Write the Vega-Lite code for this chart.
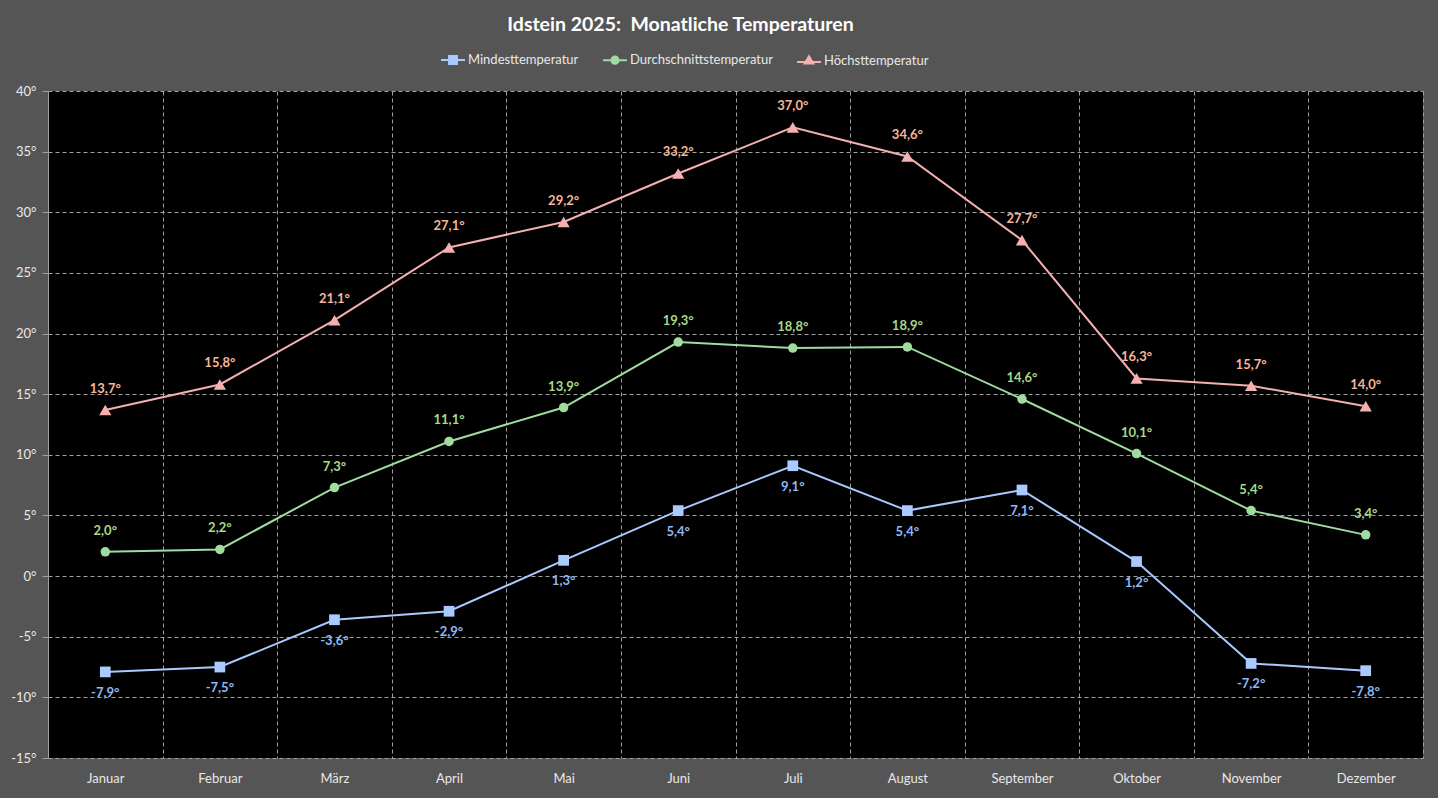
{
  "$schema": "https://vega.github.io/schema/vega-lite/v6.json",
  "autosize": "none",
  "width": 1375,
  "height": 667,
  "padding": {"left": 48, "top": 91, "right": 15, "bottom": 40},
  "background": "#555555",
  "config": {
    "locale": {"number": {"decimal": ",", "thousands": ".", "grouping": [3], "currency": ["", " €"], "minus": "-"}},
    "view": {"fill": "#000000", "stroke": null},
    "font": "Lato"
  },
  "title": {
    "text": "Idstein 2025:\u00a0 Monatliche Temperaturen",
    "color": "#ffffff",
    "fontSize": 19.5,
    "fontWeight": "bold",
    "font": "Lato",
    "anchor": "middle",
    "frame": "group",
    "dx": -55,
    "offset": 12
  },
  "data": {
    "values": [
      {"Monat": "Januar", "Serie": "Mindesttemperatur", "Temp": -7.9},
      {"Monat": "Februar", "Serie": "Mindesttemperatur", "Temp": -7.5},
      {"Monat": "März", "Serie": "Mindesttemperatur", "Temp": -3.6},
      {"Monat": "April", "Serie": "Mindesttemperatur", "Temp": -2.9},
      {"Monat": "Mai", "Serie": "Mindesttemperatur", "Temp": 1.3},
      {"Monat": "Juni", "Serie": "Mindesttemperatur", "Temp": 5.4},
      {"Monat": "Juli", "Serie": "Mindesttemperatur", "Temp": 9.1},
      {"Monat": "August", "Serie": "Mindesttemperatur", "Temp": 5.4},
      {"Monat": "September", "Serie": "Mindesttemperatur", "Temp": 7.1},
      {"Monat": "Oktober", "Serie": "Mindesttemperatur", "Temp": 1.2},
      {"Monat": "November", "Serie": "Mindesttemperatur", "Temp": -7.2},
      {"Monat": "Dezember", "Serie": "Mindesttemperatur", "Temp": -7.8},
      {"Monat": "Januar", "Serie": "Durchschnittstemperatur", "Temp": 2.0},
      {"Monat": "Februar", "Serie": "Durchschnittstemperatur", "Temp": 2.2},
      {"Monat": "März", "Serie": "Durchschnittstemperatur", "Temp": 7.3},
      {"Monat": "April", "Serie": "Durchschnittstemperatur", "Temp": 11.1},
      {"Monat": "Mai", "Serie": "Durchschnittstemperatur", "Temp": 13.9},
      {"Monat": "Juni", "Serie": "Durchschnittstemperatur", "Temp": 19.3},
      {"Monat": "Juli", "Serie": "Durchschnittstemperatur", "Temp": 18.8},
      {"Monat": "August", "Serie": "Durchschnittstemperatur", "Temp": 18.9},
      {"Monat": "September", "Serie": "Durchschnittstemperatur", "Temp": 14.6},
      {"Monat": "Oktober", "Serie": "Durchschnittstemperatur", "Temp": 10.1},
      {"Monat": "November", "Serie": "Durchschnittstemperatur", "Temp": 5.4},
      {"Monat": "Dezember", "Serie": "Durchschnittstemperatur", "Temp": 3.4},
      {"Monat": "Januar", "Serie": "Höchsttemperatur", "Temp": 13.7},
      {"Monat": "Februar", "Serie": "Höchsttemperatur", "Temp": 15.8},
      {"Monat": "März", "Serie": "Höchsttemperatur", "Temp": 21.1},
      {"Monat": "April", "Serie": "Höchsttemperatur", "Temp": 27.1},
      {"Monat": "Mai", "Serie": "Höchsttemperatur", "Temp": 29.2},
      {"Monat": "Juni", "Serie": "Höchsttemperatur", "Temp": 33.2},
      {"Monat": "Juli", "Serie": "Höchsttemperatur", "Temp": 37.0},
      {"Monat": "August", "Serie": "Höchsttemperatur", "Temp": 34.6},
      {"Monat": "September", "Serie": "Höchsttemperatur", "Temp": 27.7},
      {"Monat": "Oktober", "Serie": "Höchsttemperatur", "Temp": 16.3},
      {"Monat": "November", "Serie": "Höchsttemperatur", "Temp": 15.7},
      {"Monat": "Dezember", "Serie": "Höchsttemperatur", "Temp": 14.0}
    ]
  },
  "transform": [
    {"calculate": "format(datum.Temp, '.1f') + '°'", "as": "Label"}
  ],
  "encoding": {
    "x": {
      "field": "Monat",
      "type": "ordinal",
      "sort": ["Januar", "Februar", "März", "April", "Mai", "Juni", "Juli", "August", "September", "Oktober", "November", "Dezember"],
      "scale": {"type": "band", "paddingInner": 0, "paddingOuter": 0},
      "bandPosition": 0.5,
      "axis": {
        "title": null,
        "labelAngle": 0,
        "labelColor": "#e8e8e8",
        "labelFontSize": 13,
        "labelFont": "Lato",
        "labelPadding": 14,
        "domain": false,
        "ticks": false,
        "grid": true,
        "tickBand": "extent",
        "gridColor": "#a0a0a0",
        "gridDash": [4, 3],
        "gridWidth": 1
      }
    },
    "y": {
      "field": "Temp",
      "type": "quantitative",
      "scale": {"domain": [-15, 40], "nice": false, "zero": false},
      "axis": {
        "title": null,
        "values": [-15, -10, -5, 0, 5, 10, 15, 20, 25, 30, 35, 40],
        "labelExpr": "datum.label + '°'",
        "labelColor": "#e8e8e8",
        "labelFontSize": 13,
        "labelFont": "Lato",
        "labelPadding": 6,
        "domain": true,
        "domainColor": "#a0a0a0",
        "domainWidth": 1,
        "ticks": true,
        "tickColor": "#a0a0a0",
        "tickSize": 6,
        "grid": true,
        "gridColor": "#a0a0a0",
        "gridDash": [4, 3],
        "gridWidth": 1
      }
    },
    "color": {
      "field": "Serie",
      "type": "nominal",
      "scale": {
        "domain": ["Mindesttemperatur", "Durchschnittstemperatur", "Höchsttemperatur"],
        "range": ["#a9c9ff", "#a0dca0", "#f4b0b0"]
      },
      "legend": null
    }
  },
  "layer": [
    {
      "data": {"values": [{"y": 0}]},
      "transform": [],
      "mark": {"type": "rule", "color": "#a0a0a0", "strokeWidth": 1},
      "encoding": {"x": null, "color": null, "y": {"datum": 0, "type": "quantitative"}}
    },
    {
      "mark": {"type": "line", "strokeWidth": 2},
      "encoding": {
        "color": {
          "field": "Serie",
          "type": "nominal",
          "legend": {
            "orient": "none",
            "direction": "horizontal",
            "legendX": 392,
            "legendY": -44,
            "title": null,
            "labelColor": "#e8e8e8",
            "labelFontSize": 13,
            "labelFont": "Lato",
            "symbolSize": 576,
            "symbolStrokeWidth": 2,
            "labelOffset": 2,
            "columnPadding": 20,
            "encode": {
              "symbols": {
                "update": {
                  "shape": {"signal": "datum.value === 'Mindesttemperatur' ? 'M-1,0H1M-0.33,-0.33H0.33V0.33H-0.33Z' : datum.value === 'Durchschnittstemperatur' ? 'M-1,0H1M0.3,0A0.3,0.3,0,1,1,-0.3,0A0.3,0.3,0,1,1,0.3,0Z' : 'M-1,0.12H1M0,-0.36L0.36,0.24H-0.36Z'"},
                  "fill": {"scale": "color", "field": "value"},
                  "stroke": {"scale": "color", "field": "value"},
                  "strokeWidth": {"value": 2}
                }
              }
            }
          }
        }
      }
    },
    {
      "transform": [{"filter": "datum.Serie === 'Mindesttemperatur'"}],
      "mark": {"type": "point", "shape": "square", "filled": true, "opacity": 1, "size": 115}
    },
    {
      "transform": [{"filter": "datum.Serie === 'Durchschnittstemperatur'"}],
      "mark": {"type": "point", "shape": "circle", "filled": true, "opacity": 1, "size": 90}
    },
    {
      "transform": [{"filter": "datum.Serie === 'Höchsttemperatur'"}],
      "mark": {"type": "point", "shape": "triangle-up", "filled": true, "opacity": 1, "size": 150}
    },
    {
      "transform": [{"filter": "datum.Serie === 'Mindesttemperatur'"}],
      "mark": {"type": "text", "dy": 21, "fontWeight": "bold", "fontSize": 13, "font": "Lato", "color": "#8fb8f5"},
      "encoding": {"color": null, "text": {"field": "Label", "type": "nominal"}}
    },
    {
      "transform": [{"filter": "datum.Serie === 'Durchschnittstemperatur'"}],
      "mark": {"type": "text", "dy": -21, "fontWeight": "bold", "fontSize": 13, "font": "Lato", "color": "#a8d88a"},
      "encoding": {"color": null, "text": {"field": "Label", "type": "nominal"}}
    },
    {
      "transform": [{"filter": "datum.Serie === 'Höchsttemperatur'"}],
      "mark": {"type": "text", "dy": -21, "fontWeight": "bold", "fontSize": 13, "font": "Lato", "color": "#f7b59a"},
      "encoding": {"color": null, "text": {"field": "Label", "type": "nominal"}}
    }
  ]
}
